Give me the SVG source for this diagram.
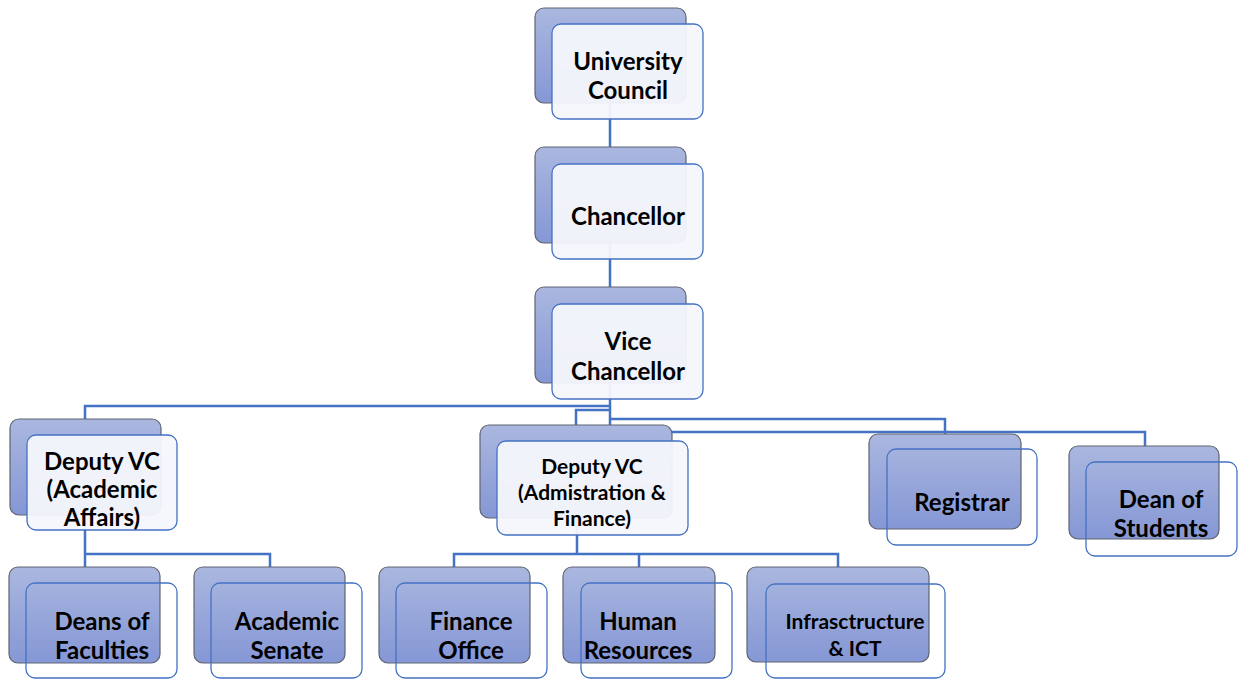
<svg xmlns="http://www.w3.org/2000/svg" width="1245" height="679" viewBox="0 0 1245 679">
<defs>
<linearGradient id="g" x1="0" y1="0" x2="0" y2="1">
<stop offset="0" stop-color="#aab7df"/>
<stop offset="1" stop-color="#8597d5"/>
</linearGradient>
<style>
.back{fill:url(#g);stroke:#5f6470;stroke-width:1.2}
.front{fill:#f5f7fc;fill-opacity:0.95;stroke:#4472c4;stroke-width:1.3}
.open{fill:none;stroke:#4472c4;stroke-width:1.3}
.c{fill:none;stroke:#4472c4;stroke-width:2.5}
text{font-family:Lato,"Liberation Sans",sans-serif;font-weight:bold;fill:#000;text-anchor:middle}
.t{font-size:24px}
.s{font-size:21px}
</style>
</defs>
<rect width="1245" height="679" fill="#fff"/>
<g id="connectors">
<path class="c" d="M610,103V147M610,243V287M610,383V406H85V419M610,406V410H576V425M610,410V419H945V434M610,419V432H1145V446"/>
<path class="c" d="M85,515V554H270V567M85,554V567"/>
<path class="c" d="M577,518V554H454V567M577,554H838V567M639,554V567"/>
</g>
<g id="university-council">
<rect class="back" x="535" y="8" width="151" height="95" rx="9"/>
<rect class="front" x="552" y="24" width="151" height="95" rx="9"/>
<text class="t" x="628" y="70">University</text>
<text class="t" x="628" y="99">Council</text>
</g>
<g id="chancellor">
<rect class="back" x="535" y="147" width="151" height="96" rx="9"/>
<rect class="front" x="552" y="164" width="151" height="95" rx="9"/>
<text class="t" x="628" y="225">Chancellor</text>
</g>
<g id="vice-chancellor">
<rect class="back" x="535" y="287" width="151" height="96" rx="9"/>
<rect class="front" x="552" y="304" width="151" height="95" rx="9"/>
<text class="t" x="628" y="350">Vice</text>
<text class="t" x="628" y="380">Chancellor</text>
</g>
<g id="deputy-vc-academic">
<rect class="back" x="10" y="419" width="151" height="96" rx="9"/>
<rect class="front" x="27" y="435" width="150" height="95" rx="9"/>
<text class="t" x="102" y="470">Deputy VC</text>
<text class="t" x="102" y="498">(Academic</text>
<text class="t" x="102" y="526">Affairs)</text>
</g>
<g id="deputy-vc-admin">
<rect class="back" x="480" y="425" width="192" height="93" rx="9"/>
<rect class="front" x="497" y="441" width="191" height="94" rx="9"/>
<text class="s" x="592" y="474">Deputy VC</text>
<text class="s" x="592" y="500">(Admistration &amp;</text>
<text class="s" x="592" y="526">Finance)</text>
</g>
<g id="registrar">
<rect class="back" x="869" y="434" width="152" height="95" rx="9"/>
<rect class="open" x="887" y="449" width="150" height="96" rx="9"/>
<text class="t" x="962" y="511">Registrar</text>
</g>
<g id="dean-of-students">
<rect class="back" x="1069" y="446" width="150" height="93" rx="9"/>
<rect class="open" x="1086" y="462" width="151" height="94" rx="9"/>
<text class="t" x="1161" y="508">Dean of</text>
<text class="t" x="1161" y="537">Students</text>
</g>
<g id="deans-of-faculties">
<rect class="back" x="9" y="567" width="151" height="96" rx="9"/>
<rect class="open" x="26" y="583" width="151" height="95" rx="9"/>
<text class="t" x="102" y="630">Deans of</text>
<text class="t" x="102" y="659">Faculties</text>
</g>
<g id="academic-senate">
<rect class="back" x="194" y="567" width="151" height="96" rx="9"/>
<rect class="open" x="211" y="583" width="151" height="95" rx="9"/>
<text class="t" x="287" y="630">Academic</text>
<text class="t" x="287" y="659">Senate</text>
</g>
<g id="finance-office">
<rect class="back" x="379" y="567" width="151" height="96" rx="9"/>
<rect class="open" x="396" y="583" width="151" height="95" rx="9"/>
<text class="t" x="471" y="630">Finance</text>
<text class="t" x="471" y="659">Office</text>
</g>
<g id="human-resources">
<rect class="back" x="563" y="567" width="152" height="96" rx="9"/>
<rect class="open" x="581" y="583" width="151" height="95" rx="9"/>
<text class="t" x="638" y="630">Human</text>
<text class="t" x="638" y="659">Resources</text>
</g>
<g id="infrastructure-ict">
<rect class="back" x="747" y="567" width="182" height="95" rx="9"/>
<rect class="open" x="766" y="584" width="179" height="94" rx="9"/>
<text class="s" x="855" y="629">Infrasctructure</text>
<text class="s" x="855" y="656">&amp; ICT</text>
</g>
</svg>
